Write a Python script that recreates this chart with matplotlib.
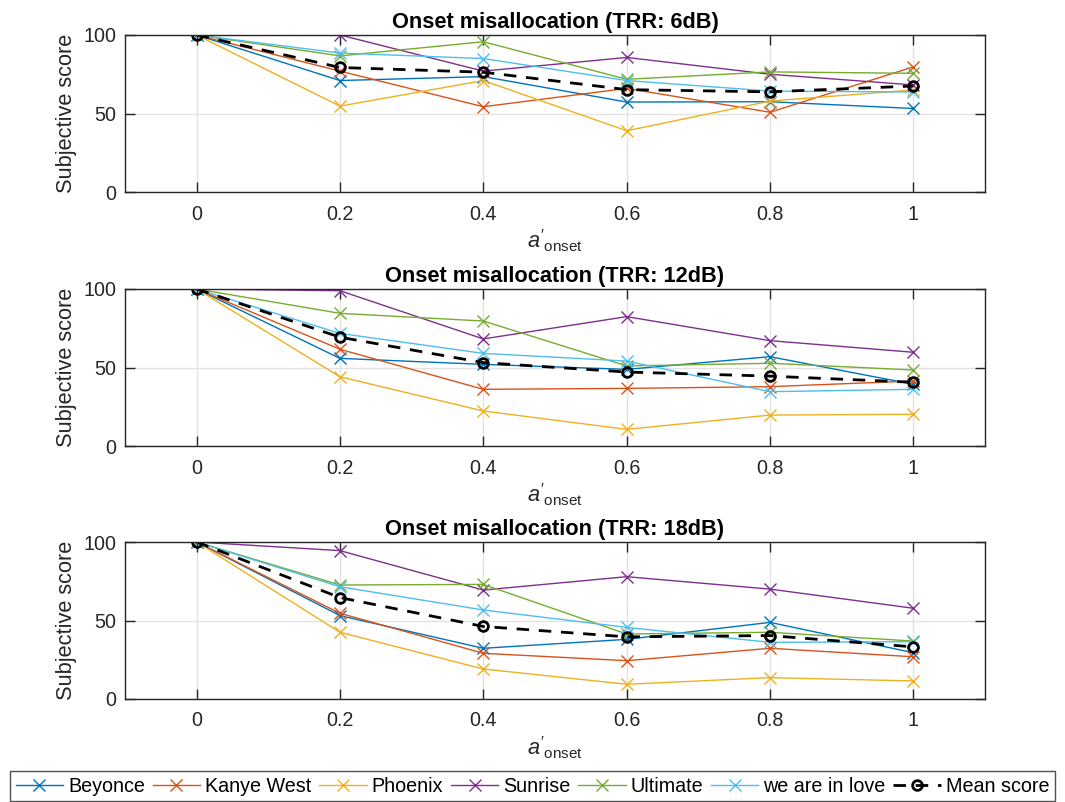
import numpy as np
import matplotlib
matplotlib.use("Agg")
import matplotlib.pyplot as plt

# ── data ─────────────────────────────────────────────────────────────────────
alpha = [0, 0.2, 0.4, 0.6, 0.8, 1.0]
songs = ["Beyonce", "Kanye West", "Phoenix", "Sunrise", "Ultimate", "we are in love"]
trr_titles = ["Onset misallocation (TRR: 6dB)",
              "Onset misallocation (TRR: 12dB)",
              "Onset misallocation (TRR: 18dB)"]

# TRR 6dB
beyonce_6 = [100, 71, 73.5, 57.3, 57.5, 53.2]
kanye_6 = [100, 77, 54.3, 66, 50.8, 79.7]
phoenix_6 = [100, 54.7, 71, 39, 57.9, 65]
sunrise_6 = [100, 100, 77, 85.7, 75, 68.2]
ultimate_6 = [100, 86.7, 95.7, 71.8, 76.5, 75.6]
love_6 = [100, 88.5, 85, 71, 64.3, 63.7]
mean_6 = [100, 79.3, 76.3, 65.2, 63.8, 67.5]

# TRR 12dB
beyonce_12 = [100, 55.8, 52, 48.8, 56.9, 39.3]
kanye_12 = [100, 61.6, 36.1, 36.7, 37.8, 41.4]
phoenix_12 = [100, 44.1, 22.3, 10.6, 19.7, 20.2]
sunrise_12 = [100, 98.9, 68.2, 82.4, 67.1, 59.7]
ultimate_12 = [100, 84.5, 79.6, 51, 52.7, 48.4]
love_12 = [100, 71.7, 59, 54.1, 34.6, 36.1]
mean_12 = [100, 69.3, 53.1, 47.1, 44.5, 40.6]

# TRR 18dB
beyonce_18 = [100, 53.1, 32.3, 38, 48.8, 29.5]
kanye_18 = [100, 54.6, 29.1, 24.4, 32.3, 26.9]
phoenix_18 = [100, 42.5, 19.1, 9.4, 13.6, 11.5]
sunrise_18 = [100, 94.5, 69.4, 77.9, 70, 57.8]
ultimate_18 = [100, 72.6, 73, 41.4, 42.5, 36.9]
love_18 = [100, 71.5, 56.7, 45.6, 36.1, 36.5]
mean_18 = [100, 64.6, 46.2, 39.6, 40.4, 33.2]

scores = [
    [beyonce_6, kanye_6, phoenix_6, sunrise_6, ultimate_6, love_6],
    [beyonce_12, kanye_12, phoenix_12, sunrise_12, ultimate_12, love_12],
    [beyonce_18, kanye_18, phoenix_18, sunrise_18, ultimate_18, love_18],
]
means = [mean_6, mean_12, mean_18]

# MATLAB default line colours
colours = ["#0072BD", "#D95319", "#EDB120", "#7E2F8E", "#77AC30", "#4DBEEE"]


def main():
    plt.rcParams["font.family"] = ["Liberation Sans", "DejaVu Sans"]
    plt.rcParams["mathtext.fontset"] = "custom"
    plt.rcParams["mathtext.rm"] = "Liberation Sans"
    plt.rcParams["mathtext.it"] = "Liberation Sans:italic"

    fig = plt.figure(figsize=(10.65, 8.02), dpi=100)
    axis_col = "#262626"

    # axes boxes in pixels: top / bottom edges
    boxes = [(35, 192), (289, 446), (542, 699)]
    left, right = 125, 985

    handles = []
    for i, (top, bottom) in enumerate(boxes):
        ax = fig.add_axes([left / 1065, 1 - bottom / 802,
                           (right - left) / 1065, (bottom - top) / 802])

        for j, song in enumerate(songs):
            h, = ax.plot(alpha, scores[i][j], color=colours[j], marker="x",
                         markersize=8, linewidth=1, label=song)
            if i == 0:
                handles.append(h)
        h, = ax.plot(alpha, means[i], color="black", linestyle="--",
                     linewidth=2, marker="o", markersize=7,
                     markerfacecolor="none", markeredgewidth=2,
                     label="Mean score", dashes=(4.5, 3.5))
        if i == 0:
            handles.append(h)

        ax.set_xlim(-0.1, 1.1)
        ax.set_ylim(0, 100)
        ax.set_xticks(alpha)
        ax.set_xticklabels(["0", "0.2", "0.4", "0.6", "0.8", "1"])
        ax.set_yticks([0, 50, 100])
        ax.grid(True, color="#e3e3e3", linewidth=1)
        ax.set_axisbelow(True)
        ax.tick_params(direction="in", length=7, width=1, labelsize=14.2,
                       colors=axis_col, top=True, right=True, pad=6)
        ax.tick_params(axis="x", pad=9)
        for sp in ax.spines.values():
            sp.set_color(axis_col)
            sp.set_linewidth(1)

        ax.set_title(trr_titles[i], fontsize=15.7, fontweight="bold", pad=5)
        ax.set_ylabel("Subjective score", fontsize=15.7, color=axis_col,
                      labelpad=5)
        ax.set_xlabel(r"$a'_{\mathrm{onset}}$", fontsize=15.7,
                      color=axis_col, labelpad=3)

    fig.legend(handles=handles, loc="center",
               bbox_to_anchor=(0.5, 1 - 786 / 802), ncol=7,
               fontsize=14.2, frameon=True, fancybox=False,
               edgecolor="#262626", handlelength=2.4, handletextpad=0.25,
               columnspacing=0.4, borderpad=0.3, borderaxespad=0)

    fig.savefig("out.png", dpi=100)


if __name__ == "__main__":
    main()
